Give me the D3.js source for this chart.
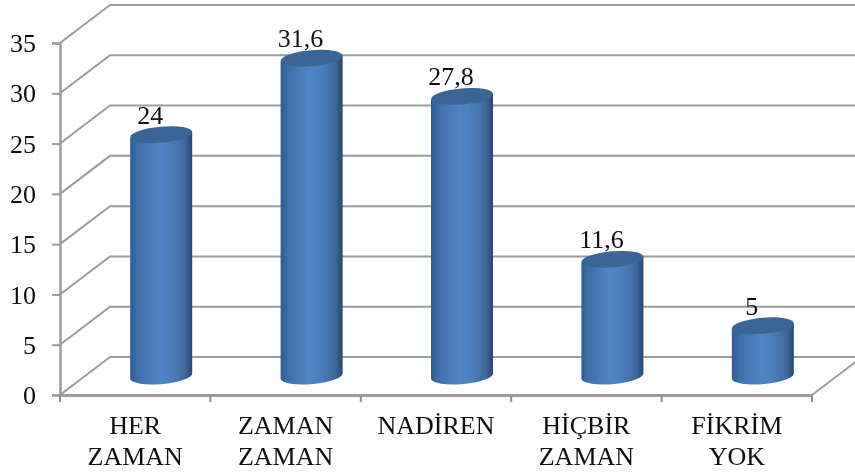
<!DOCTYPE html>
<html lang="tr">

<head>
	<meta charset="UTF-8">
	<title>Chart</title>
	<script src="https://cdn.jsdelivr.net/npm/d3@7/dist/d3.min.js"></script>
	<style>
		html, body { margin: 0; padding: 0; background: #fff; overflow: hidden; }
		text { font-family: "Liberation Serif", serif; font-size: 26px; fill: #111; }
	</style>
</head>

<body>
	<div id="chart"></div>

<script>
	const categories = [['HER', 'ZAMAN'], ['ZAMAN', 'ZAMAN'], ['NADİREN'], ['HİÇBİR', 'ZAMAN'], ['FİKRİM', 'YOK']]
	const values = [24, 31.6, 27.8, 11.6, 5]
	const valueLabels = ['24', '31,6', '27,8', '11,6', '5']
	const yTicks = [0, 5, 10, 15, 20, 25, 30, 35]

	const width = 855, height = 474
	const wallDx = 50, wallDy = -38     // depth of the 3d box
	const barDx = 26, barDy = -18       // bars stand half way in
	const barRx = 31, barRy = 8
	const gridColor = '#9c9c9c'

	let svg = d3.select('#chart').append('svg')
		.attr('width', width)
		.attr('height', height)

	let defs = svg.append('defs')
	// the reference is a soft, upscaled picture
	defs.append('filter').attr('id', 'soft')
		.append('feGaussianBlur').attr('stdDeviation', 0.7)

	let grad = defs.append('linearGradient').attr('id', 'cyl')
	grad.selectAll('stop')
		.data([[0, '#2f5c92'], [0.12, '#3f6ea8'], [0.45, '#5084c4'], [0.62, '#4d80bf'], [0.88, '#3f6a9f'], [1, '#27466f']])
		.join('stop')
		.attr('offset', d => d[0])
		.attr('stop-color', d => d[1])

	let x = d3.scaleBand().domain(d3.range(categories.length)).range([60, 812])
	let y = d3.scaleLinear().domain([0, 35]).range([395, 43])

	let g = svg.append('g').attr('filter', 'url(#soft)')

	// back wall grid lines with their diagonals on the side wall
	let grid = g.append('g').attr('fill', 'none').attr('stroke', gridColor).attr('stroke-width', 2)
	grid.selectAll('path')
		.data(yTicks)
		.join('path')
		.attr('d', d => `M${x.range()[0]},${y(d)}L${x.range()[0] + wallDx},${y(d) + wallDy}H${width + 5}`)
	// floor diagonal on the right
	grid.append('path')
		.attr('d', `M${x.range()[1]},${y(0)}L${x.range()[1] + wallDx},${y(0) + wallDy}`)

	// axes
	let yAxis = g.append('g')
		.attr('transform', `translate(${x.range()[0]},0)`)
		.call(d3.axisLeft(y).tickValues(yTicks).tickSize(8).tickPadding(16).tickFormat(d3.format('d')))
	yAxis.select('.domain').attr('stroke', gridColor).attr('stroke-width', 2.5)
	yAxis.selectAll('.tick line').attr('stroke', gridColor).attr('stroke-width', 2)
	yAxis.selectAll('.tick text').attr('dy', '0.33em')

	let xAxis = g.append('g')
		.attr('transform', `translate(0,${y(0)})`)
		.call(d3.axisBottom(x).tickSize(0).tickFormat(''))
	xAxis.select('.domain').attr('stroke', gridColor).attr('stroke-width', 3)
	xAxis.selectAll('.tick text').remove()

	// tick marks sit between the categories
	xAxis.selectAll('line.sep')
		.data(d3.range(categories.length + 1))
		.join('line')
		.attr('class', 'sep')
		.attr('x1', d => x.range()[0] + d * x.step())
		.attr('x2', d => x.range()[0] + d * x.step())
		.attr('y1', 0)
		.attr('y2', 7)
		.attr('stroke', '#8c8c8c')
		.attr('stroke-width', 2)

	// category labels
	let labels = g.append('g').selectAll('text')
		.data(categories)
		.join('text')
		.attr('text-anchor', 'middle')
		.attr('y', 434)
	labels.selectAll('tspan')
		.data((d, i) => d.map(t => ({ t, i })))
		.join('tspan')
		.attr('x', d => x(d.i) + x.bandwidth() / 2)
		.attr('dy', (d, j) => j ? 31 : 0)
		.text(d => d.t)

	// cylinders
	const cx = i => x(i) + x.bandwidth() / 2 + barDx
	let bars = g.append('g').selectAll('g')
		.data(values)
		.join('g')
		.attr('transform', (d, i) => `translate(${cx(i)},0)`)

	bars.append('path')
		.attr('fill', 'url(#cyl)')
		.attr('d', d => {
			let top = y(d) + barDy - 1, bot = y(0) + barDy - 1
			return `M${-barRx},${top + 3}L${-barRx},${bot + 3}A${barRx},${barRy} -5 0 0 ${barRx},${bot - 3}L${barRx},${top - 3}Z`
		})
	bars.append('ellipse')
		.attr('rx', barRx)
		.attr('ry', barRy)
		.attr('fill', '#3a6595')
		.attr('transform', d => `translate(0,${y(d) + barDy - 1}) rotate(-5)`)

	// value labels
	g.append('g').selectAll('text')
		.data(values)
		.join('text')
		.attr('text-anchor', 'middle')
		.attr('x', (d, i) => cx(i) - 11)
		.attr('y', d => y(d) + barDy - 12)
		.text((d, i) => valueLabels[i])
</script>

</body>

</html>
